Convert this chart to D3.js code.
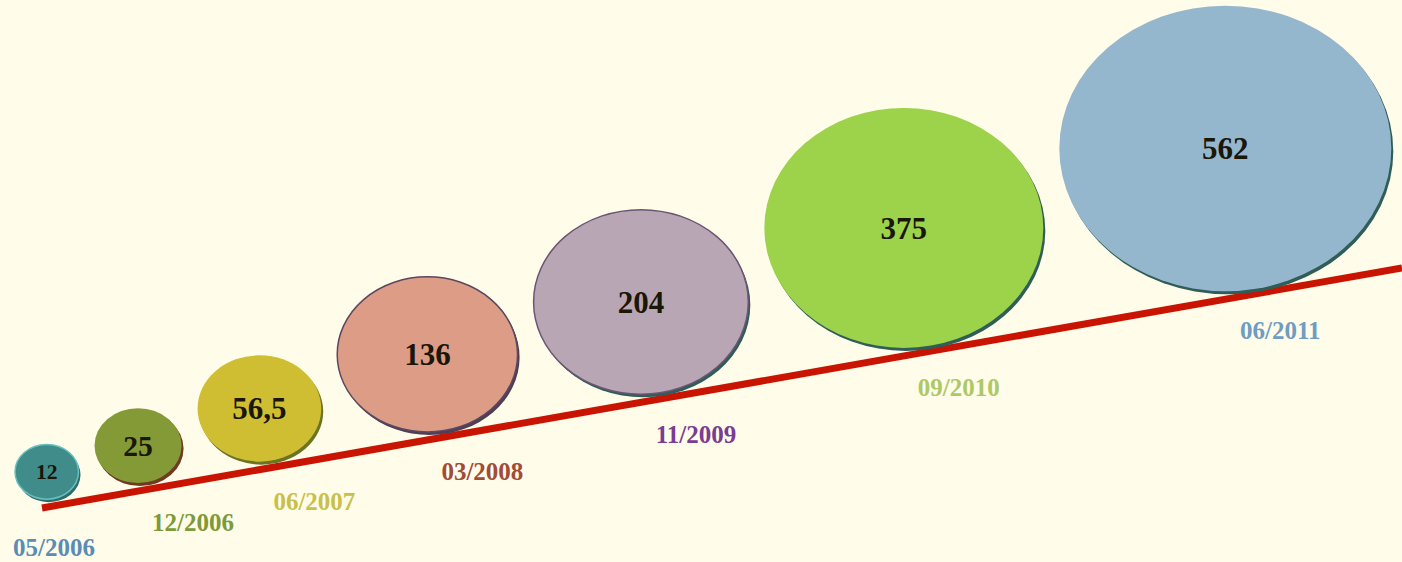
<!DOCTYPE html>
<html>
<head>
<meta charset="utf-8">
<script src="https://cdn.jsdelivr.net/npm/d3@7"></script>
<style>
  body { margin: 0; background: #fffce9; }
  svg { display: block; }
  .val { font-family: "Liberation Serif", "DejaVu Serif", serif; font-weight: bold; fill: #1a1608; }
  .date { font-family: "Liberation Serif", "DejaVu Serif", serif; font-weight: bold; font-size: 25px; }
</style>
</head>
<body>
<div id="vis"></div>
<script>
// data
var dates = ['05/2006', '12/2006', '06/2007', '03/2008', '11/2009', '09/2010', '06/2011'];
var values = [12, 25, 56.5, 136, 204, 375, 562];
var valueLabels = ['12', '25', '56,5', '136', '204', '375', '562'];

// styles
var fills = ['#3f8c8a', '#849a36', '#cfbe31', '#dc9c86', '#b8a6b4', '#9dd24b', '#95b7cd'];
var shadows = ['#2e6c69', '#6e3a22', '#6b7424', '#4e3f55', '#2f5e58', '#2f5e58', '#2f5e58'];
var rims = ['#66c0bf', 'none', 'none', '#5a4860', '#6a5573', 'none', 'none'];
var dateColors = ['#5a8cb4', '#7d9a3a', '#c9c04a', '#a04c38', '#7b3c94', '#adc866', '#6f9cc2'];

var width = 1402, height = 562;
var leftEdge = 15, gap = 16;

var svg = d3.select('#vis').append('svg')
    .attr('width', width)
    .attr('height', height);

// baseline the bubbles sit on
var lineY = d3.scaleLinear().domain([42, width]).range([508, 268]);

// bubble size (horizontal radius), ellipses slightly flattened
var rScale = d3.scalePow().exponent(0.43).domain([0, d3.max(values)]).range([0, 166]);
var aspect = 0.86;

// lay bubbles out one after the other along the baseline
var nodes = [];
var cursor = leftEdge;
values.forEach(function(v, i) {
    var rx = rScale(v), ry = rx * aspect;
    var cx = cursor + rx;
    var cy = lineY(cx) - 8 - ry;
    nodes.push({i: i, v: v, rx: rx, ry: ry, cx: cx, cy: cy});
    cursor = cx + rx + gap;
});

svg.append('line')
    .attr('x1', lineY.domain()[0]).attr('y1', lineY(lineY.domain()[0]))
    .attr('x2', width).attr('y2', lineY(width))
    .attr('stroke', '#c81400')
    .attr('stroke-width', 7);

var g = svg.selectAll('.bubble')
    .data(nodes)
    .enter().append('g')
    .attr('class', 'bubble');

// drop shadow
g.append('ellipse')
    .attr('cx', function(d) { return d.cx + 2; })
    .attr('cy', function(d) { return d.cy + 3; })
    .attr('rx', function(d) { return d.rx; })
    .attr('ry', function(d) { return d.ry; })
    .attr('fill', function(d) { return shadows[d.i]; });

g.append('ellipse')
    .attr('cx', function(d) { return d.cx; })
    .attr('cy', function(d) { return d.cy; })
    .attr('rx', function(d) { return d.rx; })
    .attr('ry', function(d) { return d.ry; })
    .attr('fill', function(d) { return fills[d.i]; })
    .attr('stroke', function(d) { return rims[d.i]; })
    .attr('stroke-width', 1.5);

g.append('text')
    .attr('class', 'val')
    .attr('x', function(d) { return d.cx; })
    .attr('y', function(d) { return d.cy; })
    .attr('dy', '0.35em')
    .attr('text-anchor', 'middle')
    .style('font-size', function(d) { return Math.min(31, d.rx * 0.68) + 'px'; })
    .text(function(d) { return valueLabels[d.i]; });

// date labels below the baseline, to the right of each bubble (first one sits at the left margin)
svg.selectAll('.date')
    .data(nodes)
    .enter().append('text')
    .attr('class', 'date')
    .attr('fill', function(d) { return dateColors[d.i]; })
    .text(function(d) { return dates[d.i]; })
    .each(function(d) {
        var w = this.getComputedTextLength();
        var x = d.i === 0 ? leftEdge - 2 : d.cx + 55 - w / 2;
        d3.select(this)
            .attr('x', x)
            .attr('y', lineY(x + w / 2) + 50);
    });
</script>
</body>
</html>
